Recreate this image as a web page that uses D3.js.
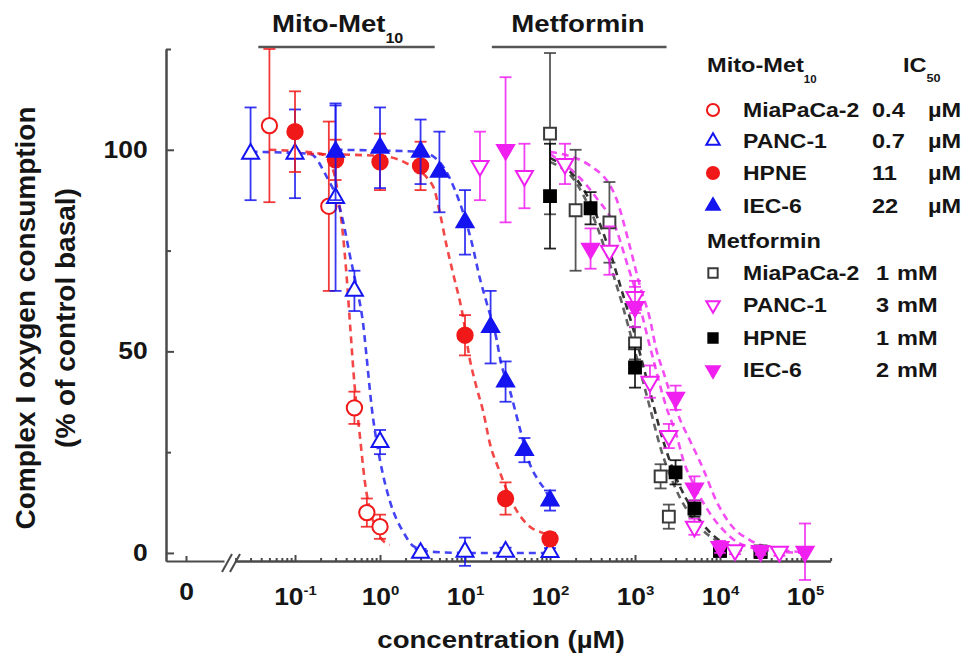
<!DOCTYPE html>
<html>
<head>
<meta charset="utf-8">
<script src="https://cdn.jsdelivr.net/npm/d3@7"></script>
<style>
  body { margin: 0; background: #fff; }
  svg text { font-family: "Liberation Sans", Arial, sans-serif; font-weight: bold; fill: #151515; }
</style>
</head>
<body>
<svg id="chart" width="971" height="665"></svg>
<script>
// points: [concentration (uM), % of control basal, error]
var mitoMiaPaCa2 = [[0.05, 106, 19], [0.25, 86, 21], [0.5, 36, 4], [0.7, 10, 3.5], [1, 6.5, 3]];
var mitoPANC1 = [[0.03, 99, 11.5], [0.1, 99, 11], [0.3, 88, 23], [0.5, 65, 5], [1, 27.5, 3], [3, 0, 1], [10, 0.3, 3.5], [30, 0.3, 1], [100, 0.2, 1]];
var mitoHPNE = [[0.1, 104.5, 10], [0.3, 97.5, 5], [1, 97, 7], [3, 96, 6], [10, 54, 5], [30, 13.5, 4], [100, 3.5, 1.5]];
var mitoIEC6 = [[0.3, 99.5, 12], [1, 100.5, 10], [3, 99.5, 8], [5, 94.5, 10], [10, 82, 8], [20, 56, 9], [30, 42.5, 5], [50, 25.5, 3], [100, 13, 2.5]];

var metMiaPaCa2 = [[100, 104, 20], [200, 85, 15], [500, 82, 10], [1000, 52, 4], [2000, 19, 3], [2500, 9, 3], [10000, 0.5, 1], [30000, 0.3, 0.5]];
var metPANC1 = [[15, 96, 8.5], [50, 93.5, 8], [150, 96.5, 5], [500, 75, 6], [1000, 63.5, 4], [1500, 42.5, 4], [2500, 29, 3], [5000, 6.5, 2], [15000, 0.7, 1], [50000, 0.3, 1]];
var metHPNE = [[100, 88.5, 13], [300, 85.5, 4], [1000, 46, 5], [3000, 20, 3], [5000, 11, 2], [10000, 0.5, 1], [30000, 0.3, 0.5]];
var metIEC6 = [[30, 100, 18], [300, 75.5, 5], [1000, 61, 5], [3000, 38.5, 3], [5000, 16, 3], [10000, 1.5, 1.5], [30000, 0.5, 1], [100000, 0.3, 7]];

// fitted dashed curves: [concentration, %]
var fitMitoMiaPaCa2 = [[0.05, 100], [0.2, 99], [0.28, 95], [0.34, 85], [0.4, 70], [0.45, 55], [0.5, 42], [0.58, 29], [0.67, 17], [0.8, 9], [1, 4], [1.3, 2]];
var fitMitoPANC1 = [[0.03, 99.5], [0.15, 99], [0.24, 93], [0.31, 88], [0.37, 82], [0.44, 74], [0.53, 66], [0.64, 56], [0.7, 48], [0.8, 36], [1, 23], [1.3, 13], [1.9, 5], [2.5, 1.6], [4, 0.3], [10, 0], [100, 0]];
var fitMitoHPNE = [[0.1, 99], [1, 98.5], [1.9, 97], [4.2, 91], [5.1, 84], [6.1, 76], [7.3, 69], [9.2, 60], [11.4, 48], [13.7, 41], [16.4, 35], [19.7, 27], [24.7, 21], [40, 10.7], [58, 6.5], [83, 4.9], [100, 4]];
var fitMitoIEC6 = [[0.3, 100], [3, 99.5], [5, 97], [6.6, 93], [8.3, 88], [10, 83], [12, 77], [15, 68], [18, 62], [23.5, 53], [26, 48], [34, 40], [44, 31], [58, 22], [73, 18], [91, 15], [100, 13]];

var fitMetMiaPaCa2 = [[100, 97], [200, 92], [300, 85], [500, 72], [700, 62], [1000, 50], [1500, 36], [2000, 26], [3000, 16], [5000, 8], [10000, 2.5], [20000, 0.5]];
var fitMetPANC1 = [[100, 99.5], [300, 96], [600, 88], [870, 76], [1150, 66], [1500, 58], [1800, 50], [2150, 45], [2550, 40], [3400, 33], [4400, 28], [6300, 21], [9000, 13], [14000, 6.5], [22400, 3.2], [55000, 0.7], [100000, 0.2]];
var fitMetHPNE = [[100, 98], [200, 93], [300, 87], [500, 75], [700, 65], [1000, 54], [1500, 40], [2000, 30], [3000, 19], [5000, 10], [10000, 3], [20000, 0.7]];
var fitMetIEC6 = [[100, 99], [225, 93], [354, 88], [608, 80], [800, 72], [1050, 64], [1550, 50], [2350, 36], [3100, 29], [3700, 23], [4900, 17], [7000, 11], [10900, 5.7], [16800, 2.4], [35000, 0.7], [100000, 0]];

// legend texts
var cellNames = ["MiaPaCa-2", "PANC-1", "HPNE", "IEC-6"];
var mitoIC50 = ["0.4", "0.7", "11", "22"];
var metIC50 = ["1", "3", "1", "2"];

// axis ticks
var xMajor = [1e-1, 1e0, 1e1, 1e2, 1e3, 1e4, 1e5];
var xExp = ["-1", "0", "1", "2", "3", "4", "5"];
var yMajor = [0, 50, 100];
var yMinor = [25, 75, 125];

var SX = 1.15; // the figure's lettering is a little wide

var svg = d3.select("#chart");

//scales: log part of the axis, the "0" part left of the break, and y
var x = d3.scaleLog().domain([0.02, 2e5]).range([235.6, 830.6]);
var xZero = d3.scaleLinear().domain([-1, 1.9]).range([166, 224]);
var y = d3.scaleLinear().domain([-2, 125]).range([561, 49]);

var xMinor = [];
d3.range(-2, 6).forEach(function (e) {
    for (var k = 2; k <= 9; k++) {
        var v = k * Math.pow(10, e);
        if (v >= 0.02 && v <= 2e5) xMinor.push(v);
    }
});

function txt(parent, px, py, s, size, anchor) {
    return parent.append("text")
        .attr("transform", "translate(" + px + "," + py + ") scale(" + SX + ",1)")
        .attr("font-size", size + "px")
        .attr("text-anchor", anchor || "start")
        .text(s);
}

function styleAxis(g) {
    g.selectAll("path, line").attr("stroke", "#4a4a4a").attr("stroke-width", 2);
}

//x axis, log part
var gx = svg.append("g").attr("transform", "translate(0," + y.range()[0] + ")");
gx.append("g")
    .call(d3.axisBottom(x).tickValues(xMinor).tickSizeInner(-3).tickSizeOuter(0).tickFormat(""))
    .call(styleAxis);
gx.append("g")
    .call(d3.axisBottom(x).tickValues(xMajor).tickSizeInner(-6).tickSizeOuter(0).tickFormat(""))
    .call(styleAxis)
    .selectAll(".tick").each(function (d, i) {
        var t = d3.select(this).select("text")
            .attr("y", 44).attr("dy", null)
            .attr("transform", "scale(" + SX + ",1)")
            .attr("font-size", "23px").attr("fill", "#151515");
        t.append("tspan").text("10");
        t.append("tspan").attr("font-size", "13px").attr("dy", -10).text(xExp[i]);
    });

//x axis, zero part
gx.append("g")
    .call(d3.axisBottom(xZero).tickValues([0]).tickSizeInner(-5).tickSizeOuter(0).tickFormat(""))
    .call(styleAxis)
    .select(".tick text")
    .attr("y", 39).attr("dy", null)
    .attr("transform", "scale(" + SX + ",1)")
    .attr("font-size", "23px").attr("fill", "#151515")
    .text("0");

//axis break marks
var bx = xZero.range()[1];
[0, 8].forEach(function (o) {
    gx.append("line")
        .attr("x1", bx - 2 + o).attr("y1", 11)
        .attr("x2", bx + 8 + o).attr("y2", -7)
        .attr("stroke", "#4a4a4a").attr("stroke-width", 2);
});

//y axis
var gy = svg.append("g").attr("transform", "translate(" + xZero.range()[0] + ",0)");
gy.append("g")
    .call(d3.axisLeft(y).tickValues(yMinor).tickSizeInner(-5).tickSizeOuter(0).tickFormat(""))
    .call(styleAxis);
gy.append("g")
    .call(d3.axisLeft(y).tickValues(yMajor).tickSizeInner(-8).tickSizeOuter(0).tickPadding(16))
    .call(styleAxis)
    .selectAll("text")
    .attr("transform", "scale(" + SX + ",1)")
    .attr("font-size", "23px").attr("fill", "#151515");

//axis titles
txt(svg, 501, 648, "concentration (µM)", 24, "middle");
var yl = svg.append("g").attr("transform", "translate(35,318) rotate(-90)");
yl.append("text").attr("text-anchor", "middle").attr("font-size", "28px").text("Complex I oxygen consumption");
yl.append("text").attr("text-anchor", "middle").attr("font-size", "28px").attr("y", 40).text("(% of control basal)");

//group headings over the plot
var mt = txt(svg, 272, 32, "Mito-Met", 24);
mt.append("tspan").attr("font-size", "14px").attr("dy", 11).text("10");
txt(svg, 578, 32, "Metformin", 24, "middle");
[[0.037, 4.4], [20.7, 2350]].forEach(function (r) {
    svg.append("line")
        .attr("x1", x(r[0])).attr("x2", x(r[1]))
        .attr("y1", 47).attr("y2", 47)
        .attr("stroke", "#555").attr("stroke-width", 2.5);
});

//series
var series = [
    { pts: mitoMiaPaCa2, fit: fitMitoMiaPaCa2, color: "#f01818", shape: "circle", open: true },
    { pts: mitoPANC1, fit: fitMitoPANC1, color: "#1414f0", shape: "up", open: true },
    { pts: mitoHPNE, fit: fitMitoHPNE, color: "#f01818", shape: "circle", open: false },
    { pts: mitoIEC6, fit: fitMitoIEC6, color: "#1414f0", shape: "up", open: false },
    { pts: metMiaPaCa2, fit: fitMetMiaPaCa2, color: "#3a3a3a", shape: "square", open: true },
    { pts: metPANC1, fit: fitMetPANC1, color: "#f020f0", shape: "down", open: true },
    { pts: metHPNE, fit: fitMetHPNE, color: "#000000", shape: "square", open: false },
    { pts: metIEC6, fit: fitMetIEC6, color: "#f020f0", shape: "down", open: false }
];

function symbolPath(shape, big) {
    var s = big ? 1 : 0.62;
    if (shape === "circle") return d3.symbol(d3.symbolCircle, 185 * s)();
    if (shape === "square") return d3.symbol(d3.symbolSquare, 140 * s)();
    return d3.symbol(d3.symbolTriangle, 125 * s)();
}

function drawMarker(g, sr, px, py, big) {
    var rot = sr.shape === "down" ? " rotate(180)" : "";
    g.append("path")
        .attr("d", symbolPath(sr.shape, big))
        .attr("transform", "translate(" + px + "," + py + ")" + rot)
        .attr("fill", sr.open ? "#fff" : sr.color)
        .attr("stroke", sr.color)
        .attr("stroke-width", 2);
}

var line = d3.line()
    .x(function (d) { return x(d[0]); })
    .y(function (d) { return y(d[1]); })
    .curve(d3.curveMonotoneX);

svg.append("g").selectAll("path")
    .data(series)
    .enter()
    .append("path")
    .attr("d", function (d) { return line(d.fit); })
    .attr("fill", "none")
    .attr("stroke", function (d) { return d.color; })
    .attr("stroke-opacity", 0.8)
    .attr("stroke-width", 2.6)
    .attr("stroke-dasharray", "7,5");

var cap = 6;
series.forEach(function (sr) {
    var g = svg.append("g");
    sr.pts.forEach(function (p) {
        var cx = x(p[0]);
        var lo = y(p[1] - p[2]), hi = y(p[1] + p[2]);
        g.append("line").attr("x1", cx).attr("x2", cx).attr("y1", lo).attr("y2", hi)
            .attr("stroke", sr.color).attr("stroke-width", 1.8).attr("stroke-opacity", 0.85);
        [lo, hi].forEach(function (yy) {
            g.append("line").attr("x1", cx - cap).attr("x2", cx + cap).attr("y1", yy).attr("y2", yy)
                .attr("stroke", sr.color).attr("stroke-width", 1.8).attr("stroke-opacity", 0.85);
        });
    });
    sr.pts.forEach(function (p) {
        drawMarker(g, sr, x(p[0]), y(p[1]), true);
    });
});

//legend
var lg = svg.append("g");
var lt = txt(lg, 707, 72, "Mito-Met", 20.5);
lt.append("tspan").attr("font-size", "10px").attr("dy", 11).text("10");
var ic = txt(lg, 903, 72, "IC", 20.5);
ic.append("tspan").attr("font-size", "11px").attr("dy", 10).text("50");
txt(lg, 707, 248, "Metformin", 20.5);

var rowsMito = [117, 148, 180, 213];
var rowsMet = [280, 312, 345, 377];
cellNames.forEach(function (name, i) {
    drawMarker(lg, series[i], 713, rowsMito[i] - 7, false);
    txt(lg, 743, rowsMito[i], name, 20);
    txt(lg, 872, rowsMito[i], mitoIC50[i], 20.5);
    txt(lg, 928, rowsMito[i], "µM", 20.5);

    drawMarker(lg, series[i + 4], 713, rowsMet[i] - 7, false);
    txt(lg, 743, rowsMet[i], name, 20);
    txt(lg, 876, rowsMet[i], metIC50[i], 20.5);
    txt(lg, 897, rowsMet[i], "mM", 20.5);
});
</script>
</body>
</html>
